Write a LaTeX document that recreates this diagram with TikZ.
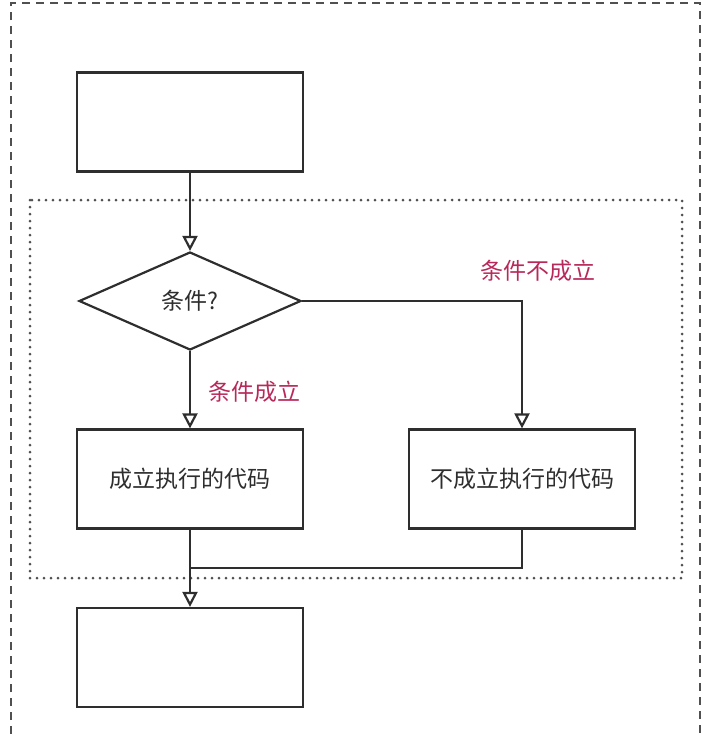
\documentclass[tikz,border=0pt]{standalone}
\usepackage{fontspec}
\usepackage{xcolor}
\newfontfamily\cjk{Noto Sans CJK SC}
\usetikzlibrary{arrows.meta, shapes.geometric, positioning}

\definecolor{linegray}{HTML}{2E2E2E}
\definecolor{framegray}{HTML}{505050}
\definecolor{labelred}{HTML}{B8285A}

\begin{document}
\begin{tikzpicture}[x=1pt, y=-1pt, >={Triangle[open, length=15pt, width=15pt]},
    font=\cjk\fontsize{23}{27}\selectfont,
    block/.style={rectangle, draw=linegray, line width=2.2pt, minimum width=226pt, minimum height=99pt, inner sep=0pt, text=linegray},
    decision/.style={diamond, draw=linegray, line width=2.2pt, minimum width=222pt, minimum height=98pt, aspect=2.26, inner sep=0pt, text=linegray},
    flow/.style={draw=linegray, line width=2.2pt},
    branch/.style={text=labelred, inner sep=0pt}]
  \useasboundingbox (0,0) rectangle (703,734);

  % Frames
  \draw[framegray, line width=2.4pt, dash pattern=on 8pt off 6pt] (11,734) -- (11,3) -- (700,3) -- (700,734);
  \draw[framegray, line width=3pt, dash pattern=on 0pt off 7pt, line cap=round] (30,200) rectangle (682,578);

  % Node positions
  \node[block] (start) at (190,122) {};
  \node[decision] (cond) at (190,301) {条件?};
  \node[block] (yes) at (190,479) {成立执行的代码};
  \node[block] (no) at (522,479) {不成立执行的代码};
  \node[block] (next) at (190,657.5) {};
  \coordinate (merge) at (190,568);

  % Branch labels
  \node[branch] (yeslab) at (254,392) {条件成立};
  \node[branch] (nolab) at (538,271) {条件不成立};

  % Transitions
  \draw[flow, ->] (start) -- (cond);
  \draw[flow, ->] (cond) -- (yes);
  \draw[flow, ->] (cond.east) -| (no.north);
  \draw[flow, ->] (yes) -- (next);
  \draw[flow] (no.south) |- (merge);

\end{tikzpicture}
\end{document}
